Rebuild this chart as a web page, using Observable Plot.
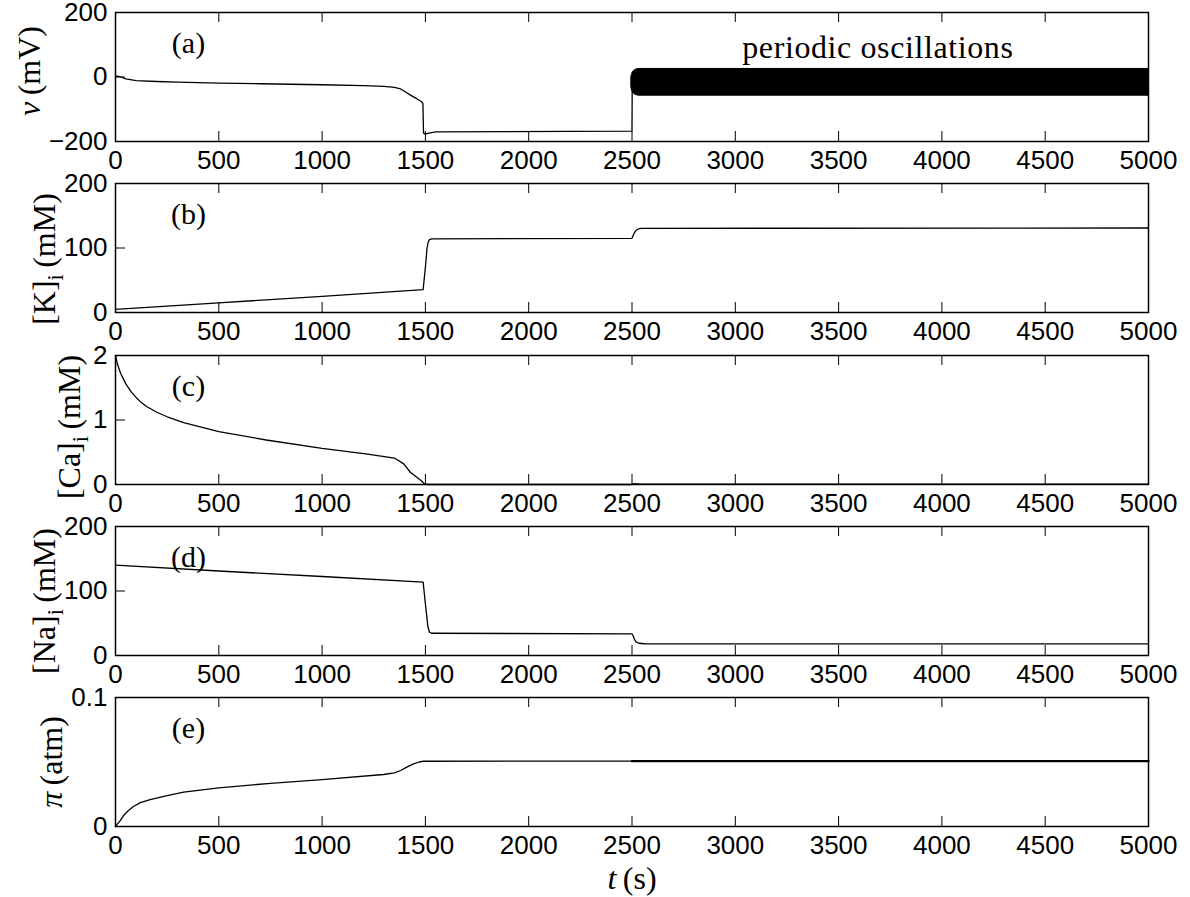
<!DOCTYPE html>
<html>
<head>
<meta charset="utf-8">
<script src="https://cdn.jsdelivr.net/npm/d3@7"></script>
<script src="https://cdn.jsdelivr.net/npm/@observablehq/plot@0.6"></script>
<style>
  body { margin: 0; background: #fff; }
  #fig { position: relative; width: 1190px; height: 897px; background: #fff; overflow: hidden; }
  #fig svg { position: absolute; left: 0; overflow: visible; }
</style>
</head>
<body>
<div id="fig"></div>
<script>
// ---------- shared axis ----------
const tTicks = [0, 500, 1000, 1500, 2000, 2500, 3000, 3500, 4000, 4500, 5000];
const panelLetters = ["(a)", "(b)", "(c)", "(d)", "(e)"];

// ---------- (a) membrane potential v (mV) ----------
const vT = [0, 10, 25, 50, 100, 200, 300, 500, 700, 1000, 1200, 1300, 1350, 1380, 1400, 1430, 1460, 1480, 1488, 1491, 1500, 1510, 1550, 2500, 2501];
const vV = [2, 3, 0, -6, -11, -14, -16, -19, -21, -24, -27, -29, -32, -37, -45, -57, -68, -76, -82, -174, -177, -175, -170, -168, -30];
const vTicks = [-200, 0, 200];
// envelope of the periodic oscillations (min / max of v)
const oscT = [2497, 2502, 2507, 2516, 2526, 2536, 5000];
const oscMin = [-33, -45, -50, -55, -57, -58, -58];
const oscMax = [0, 12, 17, 22, 24, 25, 25];
const oscNote = [{t: 3690, v: 60, text: "periodic oscillations"}];

// ---------- (b) [K]i (mM) ----------
const kT = [0, 500, 1000, 1489, 1500, 1508, 1514, 1520, 1530, 2500, 2505, 2512, 2520, 2530, 2545, 5000];
const kV = [5, 15, 25, 35.5, 70, 100, 110, 113, 114, 115, 119, 124, 127.5, 129.5, 130.5, 131];
const kTicks = [0, 100, 200];

// ---------- (c) [Ca]i (mM) ----------
const caT = [0, 10, 25, 50, 75, 100, 125, 150, 200, 250, 330, 500, 730, 1000, 1220, 1350, 1395, 1427, 1460, 1483, 1495, 1510, 2500, 2510, 2540, 5000];
const caV = [2.0, 1.86, 1.72, 1.56, 1.44, 1.35, 1.27, 1.21, 1.12, 1.05, 0.96, 0.82, 0.69, 0.56, 0.47, 0.41, 0.32, 0.19, 0.11, 0.05, 0.01, 0.0, 0.0, 0.012, 0.005, 0.005];
const caTicks = [0, 1, 2];

// ---------- (d) [Na]i (mM) ----------
const naT = [0, 500, 1000, 1489, 1500, 1512, 1520, 1530, 2500, 2505, 2512, 2520, 2533, 2560, 5000];
const naV = [140, 131, 122.5, 113.7, 80, 45, 36, 34.5, 33.5, 31, 25, 21, 19, 18.2, 18];
const naTicks = [0, 100, 200];

// ---------- (e) pi (atm) ----------
const piT = [0, 10, 23, 39, 60, 87, 120, 168, 250, 330, 500, 750, 1000, 1297, 1350, 1380, 1410, 1443, 1470, 1492, 2500, 5000];
const piV = [0, 0.002, 0.0046, 0.0085, 0.012, 0.0155, 0.0185, 0.0209, 0.024, 0.0266, 0.03, 0.0335, 0.0364, 0.0403, 0.0415, 0.0434, 0.046, 0.0486, 0.05, 0.0506, 0.0507, 0.0507];
const piTicks = [0, 0.1];

// ---------- y-axis label text pieces ----------
const yLabels = [
  [["v", "italic"], ["\u2009(mV)", ""]],
  [["[K]", ""], ["i", "sub"], ["\u2009(mM)", ""]],
  [["[Ca]", ""], ["i", "sub"], ["\u2009(mM)", ""]],
  [["[Na]", ""], ["i", "sub"], ["\u2009(mM)", ""]],
  [["\u03C0", "italic"], ["\u2009(atm)", ""]]
];
const xLabel = [["t", "italic"], ["\u2009(s)", ""]];

const series = [
  {t: vT, y: vV, domain: [-200, 200], ticks: vTicks},
  {t: kT, y: kV, domain: [0, 200], ticks: kTicks},
  {t: caT, y: caV, domain: [0, 2], ticks: caTicks},
  {t: naT, y: naV, domain: [0, 200], ticks: naTicks},
  {t: piT, y: piV, domain: [0, 0.1], ticks: piTicks}
];

// ---------- layout ----------
const W = 1190, ML = 115, MR = 42, MT = 12, INNER = 129;
const svgTop = [0, 171, 343, 514, 685];
const svgH = [171, 172, 171, 171, 212];
const yLabelX = [40, 55, 80, 55, 62];
const yLabelY = [71, 259, 427, 601, 762];
const serif = "'Liberation Serif', 'Times New Roman', serif";
const sans = "'Liberation Sans', Arial, Helvetica, sans-serif";
const fmt = d => (d < 0 ? "\u2212" + String(-d) : String(d));

function addText(svg, parts, x, y, rotate, size) {
  const text = d3.select(svg).append("text")
    .attr("transform", `translate(${x},${y})` + (rotate ? " rotate(-90)" : ""))
    .attr("text-anchor", "middle")
    .attr("font-family", serif)
    .attr("font-size", size)
    .attr("fill", "#000");
  let shift = 0;
  for (const [s, st] of parts) {
    const ts = text.append("tspan").text(s);
    if (st === "italic") ts.attr("font-style", "italic");
    if (st === "sub") {
      ts.attr("font-size", size * 0.7).attr("dy", size * 0.25);
      shift = size * 0.25;
    } else if (shift) {
      ts.attr("dy", -shift);
      shift = 0;
    }
  }
}

const fig = document.getElementById("fig");

series.forEach((s, i) => {
  const data = s.t.map((t, j) => ({t, y: s.y[j]}));
  const h = svgH[i];
  const mb = h - MT - INNER;
  const marks = [
    Plot.axisX(tTicks, {anchor: "bottom", tickSize: 0, tickPadding: 9, label: null, tickFormat: fmt}),
    Plot.axisY(s.ticks, {anchor: "left", tickSize: 0, tickPadding: 8, label: null, tickFormat: fmt}),
    Plot.tickX(tTicks, {x: d => d, insetTop: INNER - 10, stroke: "#000", strokeWidth: 1}),
    Plot.tickX(tTicks, {x: d => d, insetBottom: INNER - 10, stroke: "#000", strokeWidth: 1}),
    Plot.tickY(s.ticks, {y: d => d, insetRight: (W - ML - MR) - 10, stroke: "#000", strokeWidth: 1}),
    Plot.line(data, {x: "t", y: "y", stroke: "#000", strokeWidth: 1.3})
  ];
  if (i === 0) {
    const osc = oscT.map((t, j) => ({t, lo: oscMin[j], hi: oscMax[j]}));
    marks.push(Plot.areaY(osc, {x: "t", y1: "lo", y2: "hi", fill: "#000", stroke: "#000", strokeWidth: 1, curve: "monotone-x"}));
    marks.push(Plot.text(oscNote, {x: "t", y: "v", text: "text", textAnchor: "middle", lineAnchor: "bottom",
      fontFamily: serif, fontSize: 32, fill: "#000"}));
  }
  if (i === 4) {
    marks.push(Plot.line(data.filter(d => d.t >= 2500), {x: "t", y: "y", stroke: "#000", strokeWidth: 2.4}));
  }
  marks.push(Plot.text([panelLetters[i]], {frameAnchor: "top-left", dx: 73, dy: 19, textAnchor: "middle",
    lineAnchor: "top", fontFamily: serif, fontSize: 30, fill: "#000"}));
  marks.push(Plot.frame({stroke: "#000", strokeWidth: 1.5}));

  const svg = Plot.plot({
    width: W,
    height: h,
    marginLeft: ML,
    marginRight: MR,
    marginTop: MT,
    marginBottom: mb,
    x: {domain: [0, 5000]},
    y: {domain: s.domain},
    style: {fontFamily: sans, fontSize: "26px", color: "#000", background: "transparent", overflow: "visible"},
    marks
  });
  svg.style.top = svgTop[i] + "px";
  if (i === 0) {
    d3.select(svg).selectAll("text").filter(function () { return this.textContent === "periodic oscillations"; })
      .attr("letter-spacing", "0.6px");
  }
  addText(svg, yLabels[i], yLabelX[i], yLabelY[i] - svgTop[i], true, 32);
  if (i === 4) addText(svg, xLabel, 632, 889 - svgTop[i], false, 32);
  fig.appendChild(svg);
});
</script>
</body>
</html>
